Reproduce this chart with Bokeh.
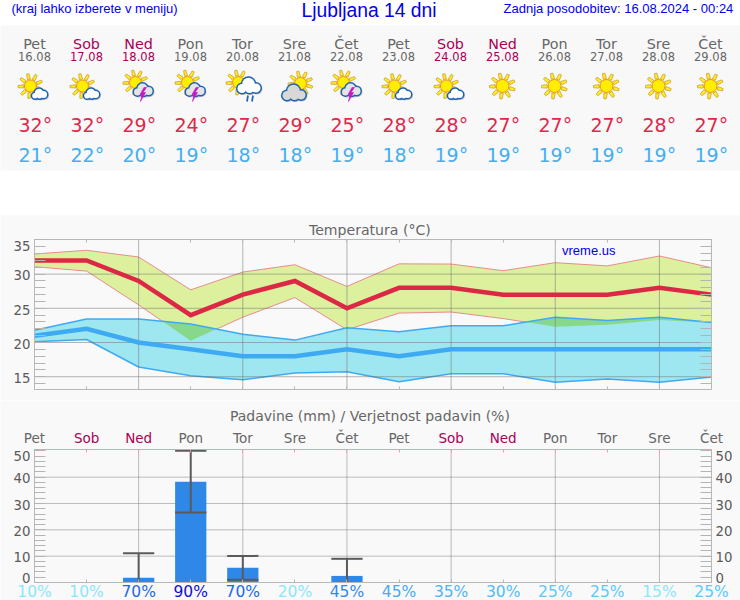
import numpy as np
from bokeh.core.properties import value
from bokeh.embed import file_html
from bokeh.layouts import column
from bokeh.models import FixedTicker, LinearAxis, Range1d
from bokeh.plotting import figure
from bokeh.resources import INLINE

# ---- data ----
days = ["Pet", "Sob", "Ned", "Pon", "Tor", "Sre", "Čet", "Pet", "Sob", "Ned", "Pon", "Tor", "Sre", "Čet"]
dates = ["16.08", "17.08", "18.08", "19.08", "20.08", "21.08", "22.08", "23.08", "24.08", "25.08", "26.08", "27.08", "28.08", "29.08"]
t_max = [32, 32, 29, 24, 27, 29, 25, 28, 28, 27, 27, 27, 28, 27]
t_min = [21, 22, 20, 19, 18, 18, 19, 18, 19, 19, 19, 19, 19, 19]
max_upper = [32.94, 33.48, 32.5, 27.7, 30.3, 31.37, 28.2, 31.5, 31.47, 30.5, 31.67, 31.2, 32.65, 30.93]
max_lower = [31.08, 30.44, 25.5, 20.25, 23.7, 26.57, 21.86, 24.3, 24.46, 23.5, 22.3, 22.6, 23.3, 22.9]
min_upper = [21.8, 23.43, 23.43, 22.7, 21.2, 20.35, 22.16, 21.57, 22.45, 22.45, 23.68, 23.2, 23.68, 22.94]
min_lower = [20.1, 20.44, 16.42, 15.15, 14.56, 15.54, 15.74, 14.26, 15.44, 15.44, 14.2, 14.66, 14.2, 14.95]
rain = [0, 0, 1.8, 38.3, 5.6, 0, 2.5, 0, 0, 0, 0, 0, 0, 0]
err_days = [2, 3, 4, 6]
err_high = [11.15, 50, 10.1, 9.0]
err_low = [0, 26.6, 1.0, 0]
prob = [10, 10, 70, 90, 70, 20, 45, 45, 35, 30, 25, 25, 15, 25]
prob_colors = ["#8ce6fa", "#8ce6fa", "#2468e4", "#1210cc", "#2468e4", "#8ce6fa", "#3488ec", "#44aaf2",
               "#4cb4f6", "#50bcf8", "#5cc8fa", "#5cc8fa", "#8ce6fa", "#5cc8fa"]
icons = ["A", "A", "S", "S", "R", "C", "S", "A", "A", "E", "E", "E", "E", "E"]
weekend = {"Sob", "Ned"}
GREY, WKND = "#666666", "#aa0055"
day_colors = [WKND if d in weekend else GREY for d in days]
idx = list(range(14))
temp_ticks = [15, 20, 25, 30, 35]
temp_label_pos = [14.8, 19.8, 24.8, 29.8, 34.1]
rain_ticks = [0, 10, 20, 30, 40, 50]
rain_label_pos = [1.7, 9.7, 19.6, 29.6, 39.7, 48.2]

BG = "#f9f9f9"
AX = "#b8b8b8"
GRID = "#707070"
TXT = "#5a5a5a"
DV = "DejaVu Sans"
LS = "Liberation Sans"
BLUE = "#0000ee"

# ---- header ----
h = figure(width=740, height=215, x_range=Range1d(0, 740), y_range=Range1d(215, 0),
           x_axis_type=None, y_axis_type=None,
           output_backend="svg", toolbar_location=None, min_border=0, outline_line_color=None,
           background_fill_color="#ffffff", border_fill_color="#ffffff")
h.quad(left=[0], right=[740], top=[25], bottom=[170], fill_color="#f8f8f8", line_color=None)

cx = [34 + 52 * i for i in idx]


def htext(x, y, text, size, color, font=DV, align="center"):
    h.text(x=x, y=y, text=text, text_font=value(font), text_font_size=size, text_color=color,
           text_align=align, text_baseline="middle")


htext([11], [8], ["(kraj lahko izberete v meniju)"], "13px", BLUE, LS, "left")
htext([301], [10], ["Ljubljana 14 dni"], "19.3px", BLUE, LS, "left")
htext([503], [8], ["Zadnja posodobitev: 16.08.2024 - 00:24"], "13px", BLUE, LS, "left")
htext(cx, [43] * 14, days, "14.3px", day_colors)
htext(cx, [56] * 14, dates, "11.5px", day_colors)
htext([x - 16 for x in cx], [124.5] * 14, [f"{v}°" for v in t_max], "19px", "#e0284a", DV, "left")
htext([x - 16 for x in cx], [154.5] * 14, [f"{v}°" for v in t_min], "19px", "#44aef0", DV, "left")


def sun(x, y, r=6.5, R=13):
    xs, ys = [], []
    for k in range(9):
        a = k * 2 * np.pi / 9 + 0.3
        w = 0.23
        xs.append([x + (r + 1) * np.cos(a - w), x + R * np.cos(a - 0.09), x + R * np.cos(a + 0.09), x + (r + 1) * np.cos(a + w)])
        ys.append([y + (r + 1) * np.sin(a - w), y + R * np.sin(a - 0.09), y + R * np.sin(a + 0.09), y + (r + 1) * np.sin(a + w)])
    h.patches(xs, ys, fill_color="#ffee22", line_color="#c8a030", line_width=0.8)
    h.circle(x=[x], y=[y], radius=r, fill_color="#ffee00", line_color="#f09010", line_width=1)


def cloud(x, y, lumps, fill="#ffffff", edge="#1c62b4"):
    xs = [x + a for a, b, c in lumps]
    ys = [y + b for a, b, c in lumps]
    rs = [c for a, b, c in lumps]
    h.circle(x=[v + 1 for v in xs], y=[v + 1 for v in ys], radius=[v + 1 for v in rs], fill_color="#b0b0b0", line_color=None, fill_alpha=0.7)
    h.circle(x=xs, y=ys, radius=[v + 1.5 for v in rs], fill_color=edge, line_color=None)
    h.circle(x=xs, y=ys, radius=rs, fill_color=fill, line_color=None)


small = [(-4.5, 2.2, 2.8), (-0.5, -0.5, 4.2), (4, 1, 3.5), (0, 2.5, 2.5)]
mid = [(-6, 2.5, 3.5), (-1, -1, 5), (5, 1.5, 4), (0, 3.2, 3)]
big = [(-7.5, 3, 4.5), (-1, -1.5, 6.2), (6.5, 2.5, 4.5), (0, 3.5, 4)]

for x, kind in zip(cx, icons):
    if kind == "A":
        sun(x - 4, 85.5, 6, 12.5)
        cloud(x + 5, 93, small)
    elif kind == "S":
        sun(x - 3, 82, 6, 12.5)
        cloud(x + 5, 89, mid, fill="#e4e4e4")
        h.patches([[x + 5.5, x + 1.5, x + 3.5, x + 2, x + 7, x + 4.5, x + 8]],
                  [[87, 94, 94, 101, 92, 92, 87]], fill_color="#c418c4", line_color="#c418c4", line_width=0.6)
    elif kind == "R":
        sun(x - 4, 82, 6, 12.5)
        cloud(x + 7, 85, big)
        h.segment(x0=[x + 5.5, x + 10.5], y0=[95, 95], x1=[x + 4.5, x + 9.5], y1=[101, 101], line_color="#1c62b4", line_width=1.7)
    elif kind == "C":
        sun(x + 6, 83, 6, 12.5)
        cloud(x, 92, big, fill="#d8d8d8")
    else:
        sun(x, 85.5, 6.5, 13)

# frame placement in px inside each lower figure
F_LEFT, F_RIGHT = 34, 29
PXX = (740 - F_LEFT - F_RIGHT) / 13
X_RANGE = (-F_LEFT / PXX, 13 + F_RIGHT / PXX)


def panel(height, ymin, ymax, top_px, bottom_px):
    pxy = (height - top_px - bottom_px) / (ymax - ymin)
    return figure(width=740, height=height, x_range=Range1d(*X_RANGE),
                  y_range=Range1d(ymin - bottom_px / pxy, ymax + top_px / pxy),
                  x_axis_type=None, y_axis_type=None,
                  output_backend="svg", toolbar_location=None, min_border=0, outline_line_color=None,
                  background_fill_color=BG, border_fill_color=BG)


def frame_axes(p, ymin, ymax, ytick_pos, yminor, ylabels, top_color, right_labels):
    for side, loc, col in (("below", ymin, AX), ("above", ymax, top_color)):
        ax = LinearAxis(fixed_location=loc, bounds=(0, 13))
        ax.ticker = FixedTicker(ticks=idx)
        ax.major_tick_in = 3
        ax.major_tick_out = 0
        ax.minor_tick_in = 0
        ax.minor_tick_out = 0
        ax.major_label_text_color = None
        ax.major_label_text_font_size = "1px"
        ax.axis_line_color = col
        ax.major_tick_line_color = col
        p.add_layout(ax, side)
    for side, loc in (("left", 0), ("right", 13)):
        ax = LinearAxis(fixed_location=loc, bounds=(ymin, ymax))
        ax.ticker = FixedTicker(ticks=ytick_pos, minor_ticks=yminor)
        ax.major_tick_in = 0
        ax.major_tick_out = 0
        ax.minor_tick_in = 11
        ax.minor_tick_out = 0
        ax.minor_tick_line_color = "#b4b4b4"
        ax.axis_line_color = AX
        ax.major_label_text_font = DV
        ax.major_label_text_font_size = "13.3px"
        ax.major_label_text_color = TXT
        ax.major_label_standoff = 4
        ax.major_label_overrides = dict(zip(ytick_pos, ylabels))
        if side == "right" and not right_labels:
            ax.major_label_text_color = None
            ax.major_label_text_font_size = "1px"
        p.add_layout(ax, side)


def grid(p, ymin, ymax, yticks, alpha):
    xs = idx[2:13:2]
    p.segment(x0=xs, x1=xs, y0=[ymin] * len(xs), y1=[ymax] * len(xs), line_color=GRID, line_alpha=alpha, level="underlay")
    p.segment(x0=[0] * len(yticks), x1=[13] * len(yticks), y0=yticks, y1=yticks, line_color=GRID, line_alpha=alpha, level="underlay")


# ---- temperature ----
T0, T1 = 13.13, 35.06
t = panel(185, T0, T1, 24, 11)
t.varea(x=idx, y1=max_lower, y2=max_upper, fill_color="#dcf09e", level="image")
t.line(idx, max_upper, line_color="#e88c8c", line_width=1, level="image")
t.line(idx, max_lower, line_color="#e88c8c", line_width=1, level="image")
t.varea(x=idx, y1=min_lower, y2=min_upper, fill_color="#9ee6f0", level="image")

# where the two bands overlap the colours blend
xo = np.array(idx, dtype=float)
d = np.array(max_lower) - np.array(min_upper)
cross = [i + d[i] / (d[i] - d[i + 1]) for i in range(13) if d[i] * d[i + 1] < 0]
xo = np.sort(np.concatenate([xo, cross]))
ov_top = np.interp(xo, idx, min_upper)
ov_bot = np.minimum(np.interp(xo, idx, max_lower), ov_top)
t.varea(x=xo, y1=ov_bot, y2=ov_top, fill_color="#88d88c", level="image")

t.line(idx, min_upper, line_color="#3eaaf2", line_width=1.5, level="image")
t.line(idx, min_lower, line_color="#3eaaf2", line_width=1.5, level="image")
grid(t, T0, T1, temp_ticks[:4], 0.5)
t.line(idx, t_max, line_color="#dc2844", line_width=4.5, line_join="miter")
t.line(idx, t_min, line_color="#3eaaf2", line_width=4.5, line_join="miter")
frame_axes(t, T0, T1, temp_label_pos, list(range(14, 36)), [str(v) for v in temp_ticks], AX, False)
t.text(x=[6.44], y=[T1], y_offset=-10, text=["Temperatura (°C)"], text_align="center", text_baseline="middle",
       text_font=value(DV), text_font_size="14.1px", text_color=GREY)
t.text(x=[10.13], y=[33.5], text=["vreme.us"], text_align="left", text_baseline="middle",
       text_font=value(LS), text_font_size="13px", text_color=BLUE)

# ---- precipitation ----
R0, R1 = 0, 50.5
r = panel(200, R0, R1, 49, 18)
grid(r, R0, R1, rain_ticks[1:5], 0.45)
r.vbar(x=idx, top=rain, bottom=0, width=0.6, fill_color="#2f88e8", line_color=None)
r.segment(x0=err_days, x1=err_days, y0=err_low, y1=err_high, line_color="#5a5a5a", line_width=2)
r.segment(x0=[i - 0.3 for i in err_days], x1=[i + 0.3 for i in err_days], y0=err_high, y1=err_high,
          line_color="#5a5a5a", line_width=2)
low_i = [i for i, v in zip(err_days, err_low) if v > 0]
low_v = [v for v in err_low if v > 0]
r.segment(x0=[i - 0.3 for i in low_i], x1=[i + 0.3 for i in low_i], y0=low_v, y1=low_v,
          line_color="#5a5a5a", line_width=2)
frame_axes(r, R0, R1, rain_label_pos, list(range(0, 51, 2)), [str(v) for v in rain_ticks], "#e0a0b8", True)
r.text(x=idx, y=[R1] * 14, y_offset=-12, text=days, text_align="center", text_baseline="middle",
       text_font=value(DV), text_font_size="13.5px", text_color=day_colors)
r.text(x=idx, y=[R0] * 14, y_offset=9, text=[f"{v}%" for v in prob], text_align="center", text_baseline="middle",
       text_font=value(DV), text_font_size="15.5px", text_color=prob_colors)
r.text(x=[6.44], y=[R1], y_offset=-34, text=["Padavine (mm) / Verjetnost padavin (%)"], text_align="center",
       text_baseline="middle", text_font=value(DV), text_font_size="14px", text_color=GREY)

page = column(h, t, r, spacing=0)
open("out.html", "w").write(file_html(page, INLINE))
